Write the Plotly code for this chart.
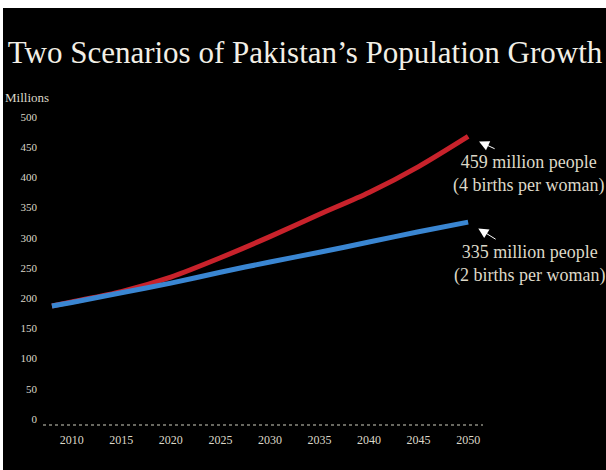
import plotly.graph_objects as go

years = [2008, 2010, 2015, 2020, 2025, 2030, 2035, 2040, 2045, 2050]
high_fertility = [187, 194, 211, 235, 267, 302, 339, 375, 418, 468]   # 4 births per woman
low_fertility = [187, 193, 209, 225, 243, 260, 276, 293, 310, 326]    # 2 births per woman

x_ticks = [2010, 2015, 2020, 2025, 2030, 2035, 2040, 2045, 2050]
y_ticks = [0, 50, 100, 150, 200, 250, 300, 350, 400, 450, 500]

title_text = "Two Scenarios of Pakistan\u2019s Population Growth"
high_label = "459 million people<br>(4 births per woman)"
low_label = "335 million people<br>(2 births per woman)"

SERIF = "Liberation Serif, DejaVu Serif, serif"
TXT = "#ddd8c8"

W, H = 606, 470
ML, MR, MT, MB = 43, 123, 105, 45
PW, PH = W - ML - MR, H - MT - MB

fig = go.Figure()
fig.add_trace(go.Scatter(x=years, y=high_fertility, mode="lines",
                         line=dict(color="#c8222b", width=5, shape="spline", smoothing=0.8),
                         showlegend=False))
fig.add_trace(go.Scatter(x=years, y=low_fertility, mode="lines",
                         line=dict(color="#3a86d2", width=5, shape="spline", smoothing=0.8),
                         showlegend=False))

fig.update_layout(
    width=W, height=H,
    paper_bgcolor="black", plot_bgcolor="black",
    margin=dict(l=ML, r=MR, t=MT, b=MB),
    title=dict(text=title_text, x=305 / W, xanchor="center", xref="container",
               y=1 - 52 / H, yref="container", yanchor="middle",
               font=dict(family=SERIF, size=31, color="#f2efe6")),
    xaxis=dict(range=[2007.1, 2051.5], tickvals=x_ticks, showgrid=False,
               zeroline=False, showline=False, ticks="", ticklabelstandoff=6,
               tickfont=dict(family=SERIF, size=12, color=TXT)),
    yaxis=dict(range=[-10, 520], tickvals=y_ticks, showgrid=False,
               zeroline=False, showline=False, ticks="", ticklabelstandoff=5,
               tickfont=dict(family=SERIF, size=11, color=TXT)),
    font=dict(family=SERIF, color=TXT),
)

# dotted baseline
fig.add_shape(type="line", xref="paper", yref="paper", x0=0, x1=1, y0=0, y1=0,
              line=dict(color="#8a8a80", width=1.5, dash="dot"))
# white border strips of the scanned picture
fig.add_shape(type="rect", xref="paper", yref="paper", x0=-1, x1=2,
              y0=(H - MB - 8) / PH, y1=2, fillcolor="white", line_width=0, layer="above")
fig.add_shape(type="rect", xref="paper", yref="paper", x0=-1, x1=(3 - ML) / PW,
              y0=-1, y1=2, fillcolor="white", line_width=0, layer="above")

fig.add_annotation(text="Millions", xref="paper", yref="paper", x=(3 - ML) / PW,
                   xanchor="left", y=(H - MB - 97) / PH, yanchor="middle", showarrow=False,
                   font=dict(family=SERIF, size=13, color=TXT))

# labels
fig.add_annotation(text=high_label, x=years[-1], y=high_fertility[-1], xref="x", yref="y",
                   showarrow=False, xanchor="center", yanchor="middle",
                   xshift=60, yshift=-38, align="center",
                   font=dict(family=SERIF, size=18, color=TXT))
fig.add_annotation(text=low_label, x=years[-1], y=low_fertility[-1], xref="x", yref="y",
                   showarrow=False, xanchor="center", yanchor="middle",
                   xshift=61, yshift=-42, align="center",
                   font=dict(family=SERIF, size=18, color=TXT))
# arrows
fig.add_annotation(text="", x=years[-1], y=high_fertility[-1], xref="x", yref="y",
                   showarrow=True, arrowhead=2, arrowsize=2, arrowwidth=1,
                   arrowcolor="white", ax=28, ay=13, standoff=12)
fig.add_annotation(text="", x=years[-1], y=low_fertility[-1], xref="x", yref="y",
                   showarrow=True, arrowhead=2, arrowsize=2, arrowwidth=1,
                   arrowcolor="white", ax=29, ay=18, standoff=12)

fig.write_html("out.html", config={"displayModeBar": False},
               post_script="document.body.style.margin='0';")
